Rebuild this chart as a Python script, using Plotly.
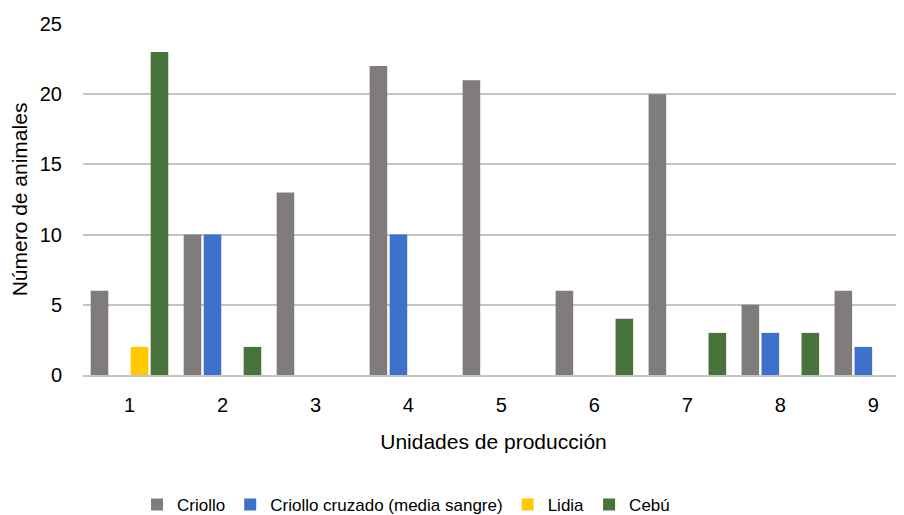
import plotly.graph_objects as go

categorias = ["1", "2", "3", "4", "5", "6", "7", "8", "9"]
criollo = [6, 10, 13, 22, 21, 6, 20, 5, 6]
criollo_cruzado = [0, 10, 0, 10, 0, 0, 0, 3, 2]
lidia = [2, 0, 0, 0, 0, 0, 0, 0, 0]
cebu = [23, 2, 0, 0, 0, 4, 3, 3, 0]
y_ticks = [0, 5, 10, 15, 20, 25]

series = [
    ("Criollo", criollo, "#807C7C"),
    ("Criollo cruzado (media sangre)", criollo_cruzado, "#3D71CC"),
    ("Lidia", lidia, "#FFC800"),
    ("Cebú", cebu, "#48733A"),
]

fig = go.Figure()
for name, vals, col in series:
    fig.add_trace(go.Bar(x=categorias, y=vals, name=name, marker=dict(color=col, line=dict(width=0))))

font = "Liberation Sans, Arial, sans-serif"
fig.update_layout(
    width=896, height=507,
    paper_bgcolor="white", plot_bgcolor="white",
    margin=dict(l=75, r=0, t=16, b=140, autoexpand=False),
    barmode="group", bargap=0.14, bargroupgap=0.12,
    font=dict(family=font, size=20, color="#000000"),
    showlegend=True,
    legend=dict(orientation="h", xref="container", yref="container", x=0.144, xanchor="left",
                y=0.02, yanchor="middle", font=dict(size=17), traceorder="normal",
                itemwidth=30, tracegroupgap=0),
    xaxis=dict(title=dict(text="Unidades de producción", font=dict(size=21), standoff=19),
               automargin=False, range=[-0.5, 8.33],
               showgrid=False, showline=True, linecolor="#C4C4C4", linewidth=2,
               ticks="", tickfont=dict(size=20), ticklabelstandoff=11),
    yaxis=dict(title=dict(text="Número de animales", font=dict(size=21), standoff=7),
               automargin=False,
               range=[0, 25], tickvals=y_ticks, showgrid=True, gridcolor="#C4C4C4", gridwidth=2,
               zeroline=False, showline=False, ticks="", tickfont=dict(size=20),
               ticklabelstandoff=20),
)

fig.write_html("out.html")
